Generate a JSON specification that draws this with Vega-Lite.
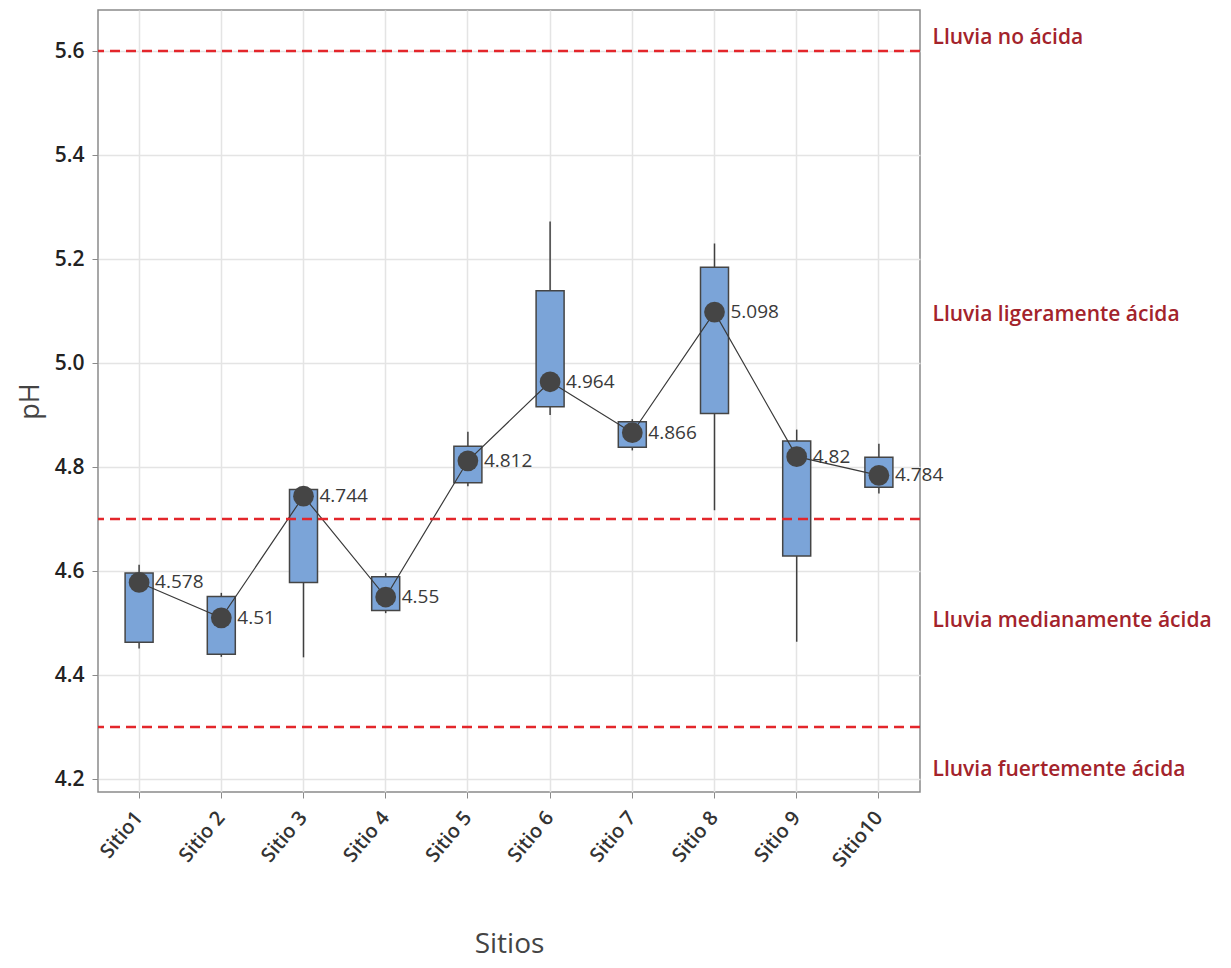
{
  "$schema": "https://vega.github.io/schema/vega-lite/v6.json",
  "width": 822,
  "height": 782,
  "autosize": "none",
  "padding": {"left": 98, "top": 10, "right": 311, "bottom": 176},
  "background": "white",
  "config": {
    "view": {"stroke": "#8a8a8a", "strokeWidth": 1.5},
    "font": "Open Sans",
    "axis": {
      "domain": false,
      "gridColor": "#e4e4e4",
      "gridWidth": 1.5,
      "tickColor": "#8a8a8a",
      "tickSize": 6,
      "labelFont": "Open Sans",
      "titleFont": "Open Sans",
      "labelColor": "#222222",
      "titleColor": "#444444",
      "titleFontWeight": "normal"
    }
  },
  "datasets": {
    "sites": [
      {"sitio": "Sitio1", "wmin": 4.451, "q1": 4.463, "q3": 4.596, "wmax": 4.612, "mean": 4.578},
      {"sitio": "Sitio 2", "wmin": 4.435, "q1": 4.440, "q3": 4.551, "wmax": 4.558, "mean": 4.51},
      {"sitio": "Sitio 3", "wmin": 4.434, "q1": 4.578, "q3": 4.757, "wmax": 4.760, "mean": 4.744},
      {"sitio": "Sitio 4", "wmin": 4.519, "q1": 4.524, "q3": 4.589, "wmax": 4.596, "mean": 4.55},
      {"sitio": "Sitio 5", "wmin": 4.763, "q1": 4.770, "q3": 4.840, "wmax": 4.868, "mean": 4.812},
      {"sitio": "Sitio 6", "wmin": 4.900, "q1": 4.916, "q3": 5.139, "wmax": 5.272, "mean": 4.964},
      {"sitio": "Sitio 7", "wmin": 4.832, "q1": 4.838, "q3": 4.887, "wmax": 4.892, "mean": 4.866},
      {"sitio": "Sitio 8", "wmin": 4.717, "q1": 4.903, "q3": 5.184, "wmax": 5.230, "mean": 5.098},
      {"sitio": "Sitio 9", "wmin": 4.464, "q1": 4.629, "q3": 4.850, "wmax": 4.872, "mean": 4.82},
      {"sitio": "Sitio10", "wmin": 4.749, "q1": 4.761, "q3": 4.819, "wmax": 4.845, "mean": 4.784}
    ],
    "limits": [
      {"ph": 5.6},
      {"ph": 4.7},
      {"ph": 4.3}
    ]
  },
  "layer": [
    {
      "data": {"name": "sites"},
      "mark": {"type": "rule", "color": "#404040", "strokeWidth": 1.5},
      "encoding": {
        "x": {
          "field": "sitio", "type": "nominal", "sort": null,
          "scale": {"paddingInner": 0, "paddingOuter": 0},
          "axis": {
            "title": "Sitios", "titleFontSize": 28, "titlePadding": 60,
            "labelAngle": -50, "labelFontSize": 20, "labelPadding": 16,
            "labelFontWeight": 600, "labelColor": "#333333",
            "bandPosition": 0.5, "grid": true
          }
        },
        "y": {
          "field": "wmin", "type": "quantitative",
          "scale": {"domain": [4.175, 5.679], "nice": false, "zero": false},
          "axis": {
            "orient": "left", "title": "pH", "titleFontSize": 27, "titlePadding": 10,
            "values": [4.2, 4.4, 4.6, 4.8, 5.0, 5.2, 5.4, 5.6], "format": ".1f",
            "labelFontSize": 21, "labelFontWeight": 600, "labelPadding": 8, "grid": true
          }
        },
        "y2": {"field": "wmax"}
      }
    },
    {
      "data": {"name": "sites"},
      "mark": {"type": "bar", "width": 28, "fill": "#7ba4d8", "stroke": "#454545", "strokeWidth": 1.5},
      "encoding": {
        "x": {"field": "sitio", "type": "nominal", "sort": null},
        "y": {"field": "q1", "type": "quantitative", "axis": null},
        "y2": {"field": "q3"}
      }
    },
    {
      "data": {"name": "sites"},
      "mark": {"type": "line", "color": "#3a3a3a", "strokeWidth": 1.2},
      "encoding": {
        "x": {"field": "sitio", "type": "nominal", "sort": null},
        "y": {"field": "mean", "type": "quantitative", "axis": null}
      }
    },
    {
      "data": {"name": "sites"},
      "mark": {"type": "point", "shape": "circle", "filled": true, "size": 430, "color": "#454545", "opacity": 1},
      "encoding": {
        "x": {"field": "sitio", "type": "nominal", "sort": null},
        "y": {"field": "mean", "type": "quantitative", "axis": null}
      }
    },
    {
      "data": {"name": "sites"},
      "mark": {"type": "text", "align": "left", "baseline": "middle", "dx": 16, "fontSize": 19, "font": "Open Sans", "color": "#3a3a3a"},
      "encoding": {
        "x": {"field": "sitio", "type": "nominal", "sort": null},
        "y": {"field": "mean", "type": "quantitative", "axis": null},
        "text": {"field": "mean", "type": "nominal"}
      }
    },
    {
      "data": {"name": "limits"},
      "mark": {"type": "rule", "color": "#e3262b", "strokeWidth": 2.5, "strokeDash": [10, 6]},
      "encoding": {
        "y": {
          "field": "ph", "type": "quantitative",
          "axis": {
            "orient": "right", "title": null, "grid": false, "ticks": false, "domain": false,
            "values": [5.627, 5.094, 4.504, 4.219],
            "labelExpr": "datum.value == 5.627 ? 'Lluvia no ácida' : datum.value == 5.094 ? 'Lluvia ligeramente ácida' : datum.value == 4.504 ? 'Lluvia medianamente ácida' : 'Lluvia fuertemente ácida'",
            "labelColor": "#a3232b", "labelFontSize": 21, "labelFontWeight": 600,
            "labelPadding": 12, "labelAlign": "left", "labelBaseline": "middle",
            "labelLimit": 400, "labelOverlap": false
          }
        }
      }
    }
  ],
  "resolve": {"axis": {"y": "independent"}}
}
